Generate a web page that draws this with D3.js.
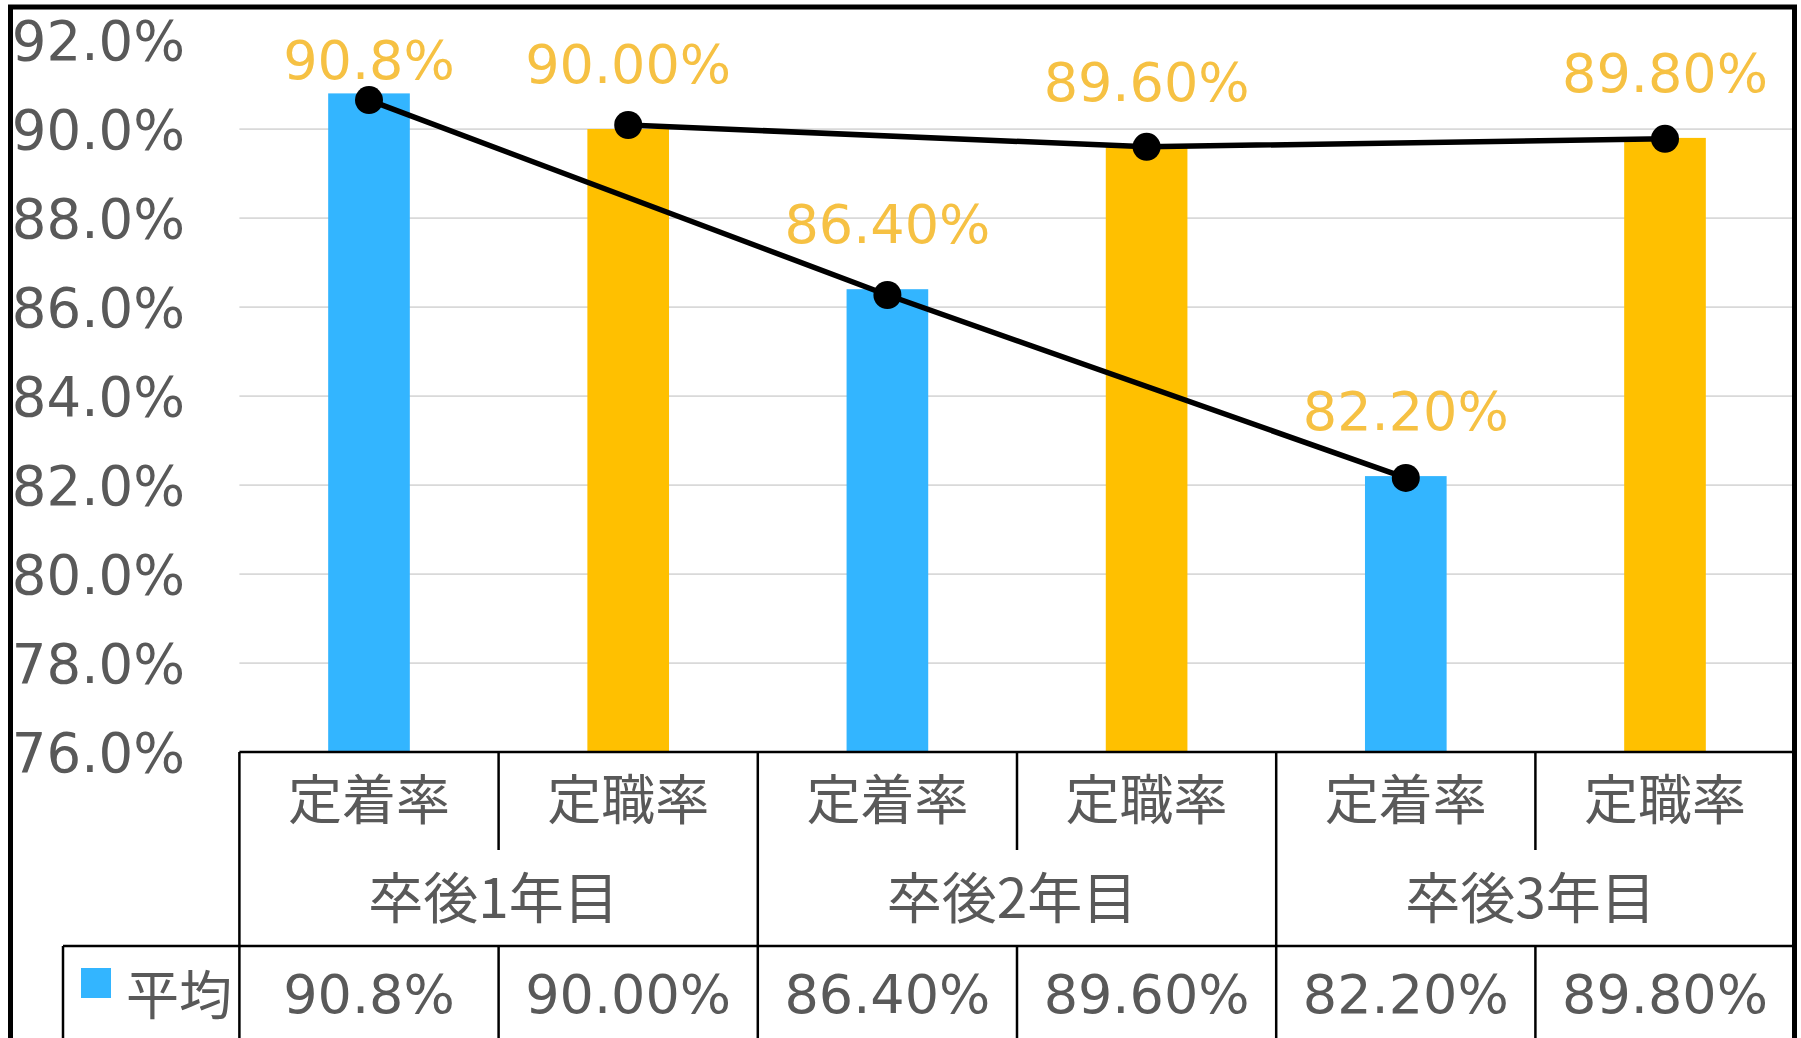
<!DOCTYPE html>
<html>
<head>
<meta charset="utf-8">
<script src="https://cdn.jsdelivr.net/npm/d3@7"></script>
<style>
  html, body { margin: 0; padding: 0; background: #fff; }
  svg { display: block; }
</style>
</head>
<body>
<div id="chart"></div>
<script>
// ---- data ----
const groups = ["卒後1年目", "卒後2年目", "卒後3年目"];
const subCategories = ["定着率", "定職率"];
const barValues = [90.8, 90.0, 86.4, 89.6, 82.2, 89.8];
const valueLabels = ["90.8%", "90.00%", "86.40%", "89.60%", "82.20%", "89.80%"];
// line markers
const lineTeichaku = [90.65, 86.27, 82.16];   // 定着率 points
const lineTeishoku = [90.09, 89.60, 89.78];   // 定職率 points
const yTicks = [76, 78, 80, 82, 84, 86, 88, 90, 92];
const legendLabel = "平均";

// ---- layout ----
const W = 1801, H = 1038;
const numFont = "'DejaVu Sans', Verdana, sans-serif";
const cjkFont = "'Noto Sans CJK JP', 'Noto Sans', sans-serif";
const gray = "#595959";
const blue = "#33B5FF", orange = "#FFC000", labelColor = "#F6C143";

const svg = d3.select("#chart").append("svg").attr("width", W).attr("height", H);

const cats = [];
groups.forEach((g, gi) => subCategories.forEach((s, si) => cats.push({g, gi, s, si})));
const catKeys = cats.map((c, i) => i);

const x = d3.scaleBand().domain(catKeys).range([239.4, 1794.6]).paddingInner(0).paddingOuter(0);
const y = d3.scaleLinear().domain([76, 92]).range([752, 40]);
const step = x.step();
const barW = step * 0.315;

// gridlines
svg.append("g").selectAll("line").data(yTicks.filter(t => t > 76 && t < 92)).join("line")
  .attr("x1", 239.4).attr("x2", 1794.6)
  .attr("y1", d => y(d)).attr("y2", d => y(d))
  .attr("stroke", "#D9D9D9").attr("stroke-width", 1.75);

// y-axis labels
svg.append("g").selectAll("text").data(yTicks).join("text")
  .attr("x", 185).attr("y", d => y(d) + 20)
  .attr("text-anchor", "end")
  .attr("font-family", numFont).attr("font-size", 54.5).attr("fill", gray)
  .text(d => d.toFixed(1) + "%");

// bars
svg.append("g").selectAll("rect").data(barValues).join("rect")
  .attr("x", (d, i) => x(i) + step / 2 - barW / 2)
  .attr("width", barW)
  .attr("y", d => y(d))
  .attr("height", d => y(76) - y(d))
  .attr("fill", (d, i) => cats[i].si === 0 ? blue : orange);

// lines
const cx = i => x(i) + step / 2;
const lineGen = d3.line().x(d => d[0]).y(d => d[1]);
const lineA = lineTeichaku.map((v, gi) => [cx(gi * 2), y(v)]);
const lineB = lineTeishoku.map((v, gi) => [cx(gi * 2 + 1), y(v)]);
[lineA, lineB].forEach(pts => {
  svg.append("path").attr("d", lineGen(pts)).attr("fill", "none")
    .attr("stroke", "#000").attr("stroke-width", 5.5);
  svg.append("g").selectAll("circle").data(pts).join("circle")
    .attr("cx", d => d[0]).attr("cy", d => d[1]).attr("r", 14).attr("fill", "#000");
});

// data labels
svg.append("g").selectAll("text").data(barValues).join("text")
  .attr("x", (d, i) => cx(i))
  .attr("y", d => Math.max(79, y(d) - 46))
  .attr("text-anchor", "middle")
  .attr("font-family", numFont).attr("font-size", 54).attr("fill", labelColor)
  .text((d, i) => valueLabels[i]);

// ---- table below ----
const tbl = svg.append("g").attr("stroke", "#000").attr("stroke-width", 2.5);
const left = 239.4, right = 1794.6, rTop = 752, rMid = 850, rData = 946, rBot = 1100;
tbl.append("line").attr("x1", left).attr("x2", right).attr("y1", rTop).attr("y2", rTop);
tbl.append("line").attr("x1", 63).attr("x2", right).attr("y1", rData).attr("y2", rData);
tbl.append("line").attr("x1", 63).attr("x2", 63).attr("y1", rData).attr("y2", rBot);
d3.range(catKeys.length + 1).forEach(i => {
  const xx = left + i * step;
  if (i % 2 === 0) {
    tbl.append("line").attr("x1", xx).attr("x2", xx).attr("y1", rTop).attr("y2", rBot);
  } else {
    tbl.append("line").attr("x1", xx).attr("x2", xx).attr("y1", rTop).attr("y2", rMid);
    tbl.append("line").attr("x1", xx).attr("x2", xx).attr("y1", rData).attr("y2", rBot);
  }
});

// sub category labels
svg.append("g").selectAll("text").data(cats).join("text")
  .attr("x", (d, i) => cx(i)).attr("y", 796)
  .attr("text-anchor", "middle").attr("dominant-baseline", "central")
  .attr("font-family", cjkFont).attr("font-size", 54).attr("fill", gray)
  .text(d => d.s);

// group labels
svg.append("g").selectAll("text").data(groups).join("text")
  .attr("x", (d, gi) => left + step * (gi * 2 + 1) - 5).attr("y", 894)
  .attr("text-anchor", "middle").attr("dominant-baseline", "central")
  .attr("font-family", cjkFont).attr("font-size", 55).attr("fill", gray)
  .text(d => d);

// data row
svg.append("g").selectAll("text").data(valueLabels).join("text")
  .attr("x", (d, i) => cx(i)).attr("y", 1013)
  .attr("text-anchor", "middle")
  .attr("font-family", numFont).attr("font-size", 54).attr("fill", gray)
  .text(d => d);

// legend cell
svg.append("rect").attr("x", 81).attr("y", 968).attr("width", 30).attr("height", 30).attr("fill", blue);
svg.append("text").attr("x", 126).attr("y", 992)
  .attr("dominant-baseline", "central")
  .attr("font-family", cjkFont).attr("font-size", 53).attr("fill", gray)
  .text(legendLabel);

// outer border
svg.append("rect").attr("x", 10.5).attr("y", 7).attr("width", 1784).attr("height", 1200)
  .attr("fill", "none").attr("stroke", "#000").attr("stroke-width", 5);
</script>
</body>
</html>
